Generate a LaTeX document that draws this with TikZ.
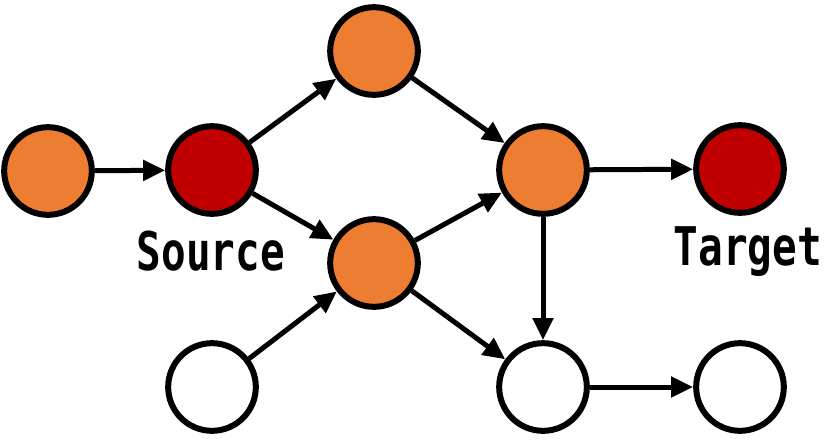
\documentclass[tikz,border=0pt]{standalone}
\usepackage{fontspec}
\setmonofont{DejaVu Sans Mono}
\usetikzlibrary{arrows.meta}
\definecolor{orng}{HTML}{ED7D31}
\definecolor{rd}{HTML}{C00000}
\begin{document}
\begin{tikzpicture}[x=0.03cm,y=-0.03cm,
  vert/.style={circle,draw=black,line width=0.18cm,minimum size=2.63cm,inner sep=0pt},
  hot/.style={vert,fill=orng},
  key/.style={vert,fill=rd},
  blank/.style={vert,fill=white},
  edge/.style={line width=0.15cm,-{Triangle[length=0.66cm,width=0.6cm]}},
  lab/.style={font=\ttfamily\bfseries\fontsize{35}{38}\selectfont,inner sep=0pt,anchor=base}]
\useasboundingbox (0,0) rectangle (828,440);
\node[hot] (a) at (48,171) {};
\node[key] (s) at (212,170) {};
\node[hot] (t) at (374,51) {};
\node[hot] (m) at (374,263) {};
\node[hot] (r) at (543,170) {};
\node[key] (g) at (740,169) {};
\node[blank] (bl) at (212,387) {};
\node[blank] (bm) at (543,387) {};
\node[blank] (br) at (740,387) {};
\node[lab] (sl) at (211,270) {\scalebox{1}[1.3]{Source}};
\node[lab] (tl) at (748,265) {\scalebox{1}[1.3]{Target}};
\draw[edge] (a) -- (s);
\draw[edge] (s) -- (t);
\draw[edge] (s) -- (m);
\draw[edge] (t) -- (r);
\draw[edge] (m) -- (r);
\draw[edge] (r) -- (g);
\draw[edge] (r) -- (bm);
\draw[edge] (m) -- (bm);
\draw[edge] (bl) -- (m);
\draw[edge] (bm) -- (br);
\end{tikzpicture}
\end{document}
